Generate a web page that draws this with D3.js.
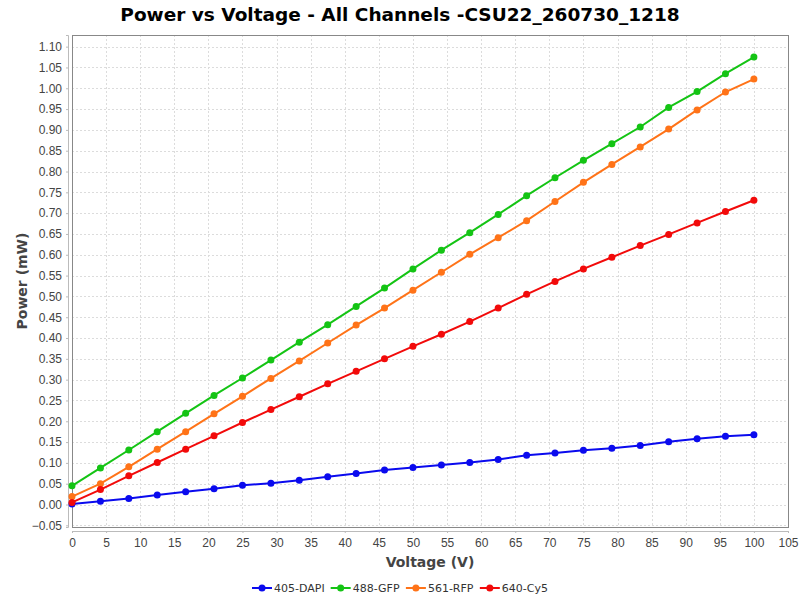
<!DOCTYPE html>
<html>
<head>
<meta charset="utf-8">
<script src="https://cdn.jsdelivr.net/npm/d3@7"></script>
<style>
  body { margin: 0; background: #fff; }
  svg { font-family: "DejaVu Sans", sans-serif; }
  .tick-label { fill: #444; font-size: 12px; }
  .axis-title { fill: #444; font-size: 14px; font-weight: bold; }
</style>
</head>
<body>
<div id="chart"></div>
<script>
const voltage = [0, 4.17, 8.33, 12.5, 16.67, 20.83, 25, 29.17, 33.33, 37.5, 41.67, 45.83,
  50, 54.17, 58.33, 62.5, 66.67, 70.83, 75, 79.17, 83.33, 87.5, 91.67, 95.83, 100]

const dapi = [0.001, 0.008, 0.0145, 0.023, 0.0305, 0.038, 0.0465, 0.051, 0.0585, 0.0665, 0.0745, 0.083,
  0.089, 0.095, 0.101, 0.108, 0.1185, 0.124, 0.1305, 0.135, 0.142, 0.151, 0.158, 0.164, 0.1675]
const gfp = [0.045, 0.088, 0.131, 0.175, 0.219, 0.262, 0.304, 0.347, 0.390, 0.432, 0.476, 0.520,
  0.566, 0.611, 0.653, 0.697, 0.742, 0.785, 0.827, 0.867, 0.907, 0.954, 0.992, 1.035, 1.075]
const rfp = [0.019, 0.050, 0.0905, 0.133, 0.175, 0.218, 0.260, 0.303, 0.345, 0.388, 0.431, 0.472,
  0.515, 0.558, 0.601, 0.641, 0.682, 0.728, 0.774, 0.817, 0.859, 0.902, 0.948, 0.991, 1.022]
const cy5 = [0.005, 0.036, 0.069, 0.101, 0.133, 0.165, 0.197, 0.228, 0.259, 0.290, 0.320, 0.350,
  0.380, 0.409, 0.4395, 0.472, 0.505, 0.536, 0.566, 0.594, 0.622, 0.649, 0.6765, 0.704, 0.731]

const seriesNames = ['405-DAPI', '488-GFP', '561-RFP', '640-Cy5']
const seriesValues = [dapi, gfp, rfp, cy5]
const seriesColors = ['#0a0aee', '#14c414', '#ff7318', '#f20a0a']

const xTicks = d3.range(0, 106, 5)
const yTicks = d3.range(-0.05, 1.1001, 0.05)

const W = 800, H = 600
const plot = { left: 72, right: 788, top: 35, bottom: 527 }

const svg = d3.select('#chart').append('svg')
  .attr('width', W)
  .attr('height', H)

const x = d3.scaleLinear().domain([0, 105]).range([plot.left, plot.right])
const y = d3.scaleLinear().domain([-0.054, 1.128]).range([plot.bottom, plot.top])

// grid
const grid = svg.append('g')
  .attr('stroke', '#dcdcdc')
  .attr('stroke-dasharray', '2,2')
  .attr('stroke-width', 1)
grid.selectAll('.vg').data(xTicks).enter().append('line')
  .attr('x1', d => Math.round(x(d)) + 0.5).attr('x2', d => Math.round(x(d)) + 0.5)
  .attr('y1', plot.top).attr('y2', plot.bottom)
grid.selectAll('.hg').data(yTicks).enter().append('line')
  .attr('y1', d => Math.round(y(d)) + 0.5).attr('y2', d => Math.round(y(d)) + 0.5)
  .attr('x1', plot.left).attr('x2', plot.right)

// plot border
svg.append('rect')
  .attr('x', plot.left + 0.5).attr('y', plot.top + 0.5)
  .attr('width', plot.right - plot.left).attr('height', plot.bottom - plot.top)
  .attr('fill', 'none').attr('stroke', '#888')

// axes, offset from the plot like the original
const xAxis = d3.axisBottom(x).tickValues(xTicks).tickSize(2).tickPadding(5).tickFormat(d3.format('d'))
const yAxis = d3.axisLeft(y).tickValues(yTicks).tickSize(2).tickPadding(4).tickFormat(d3.format('.2f'))

const gx = svg.append('g').attr('transform', `translate(0,${plot.bottom + 4})`).call(xAxis)
const gy = svg.append('g').attr('transform', `translate(${plot.left - 4},0)`).call(yAxis)
;[gx, gy].forEach(g => {
  g.select('.domain').attr('stroke', '#bbb')
  g.selectAll('.tick line').attr('stroke', '#bbb')
  g.selectAll('.tick text').attr('class', 'tick-label').attr('font-family', null).attr('font-size', null)
})

// titles
svg.append('text')
  .attr('x', W / 2).attr('y', 21)
  .attr('text-anchor', 'middle')
  .style('font-size', '18.5px').style('font-weight', 'bold').style('fill', '#000')
  .text('Power vs Voltage - All Channels -CSU22_260730_1218')
svg.append('text')
  .attr('class', 'axis-title')
  .attr('x', (plot.left + plot.right) / 2).attr('y', 567)
  .attr('text-anchor', 'middle')
  .text('Voltage (V)')
svg.append('text')
  .attr('class', 'axis-title')
  .attr('transform', `translate(27,${(plot.top + plot.bottom) / 2}) rotate(-90)`)
  .attr('text-anchor', 'middle')
  .text('Power (mW)')

// series
const line = d3.line().x((d, i) => x(voltage[i])).y(d => y(d))
const series = svg.selectAll('.series')
  .data(seriesValues)
  .enter()
  .append('g')
  .attr('class', 'series')
series.append('path')
  .attr('d', d => line(d))
  .attr('fill', 'none')
  .attr('stroke', (d, i) => seriesColors[i])
  .attr('stroke-width', 2)
series.each(function(vals, si) {
  d3.select(this).selectAll('circle')
    .data(vals)
    .enter()
    .append('circle')
    .attr('cx', (d, i) => x(voltage[i]))
    .attr('cy', d => y(d))
    .attr('r', 3.5)
    .attr('fill', seriesColors[si])
})

// legend
const legend = svg.append('g').attr('transform', 'translate(0,588)')
const items = legend.selectAll('g').data(seriesNames).enter().append('g')
items.append('line')
  .attr('x1', 0).attr('x2', 20)
  .attr('stroke', (d, i) => seriesColors[i]).attr('stroke-width', 2)
items.append('circle')
  .attr('cx', 10).attr('r', 3.5)
  .attr('fill', (d, i) => seriesColors[i])
items.append('text')
  .attr('x', 22).attr('y', 4)
  .style('font-size', '11px').style('fill', '#333')
  .text(d => d)
let offs = 0
const widths = []
items.each(function() { widths.push(this.getBBox().width) })
const total = d3.sum(widths) + 6 * (widths.length - 1)
offs = W / 2 - total / 2
items.attr('transform', (d, i) => {
  const t = `translate(${offs},0)`
  offs += widths[i] + 6
  return t
})
</script>
</body>
</html>
